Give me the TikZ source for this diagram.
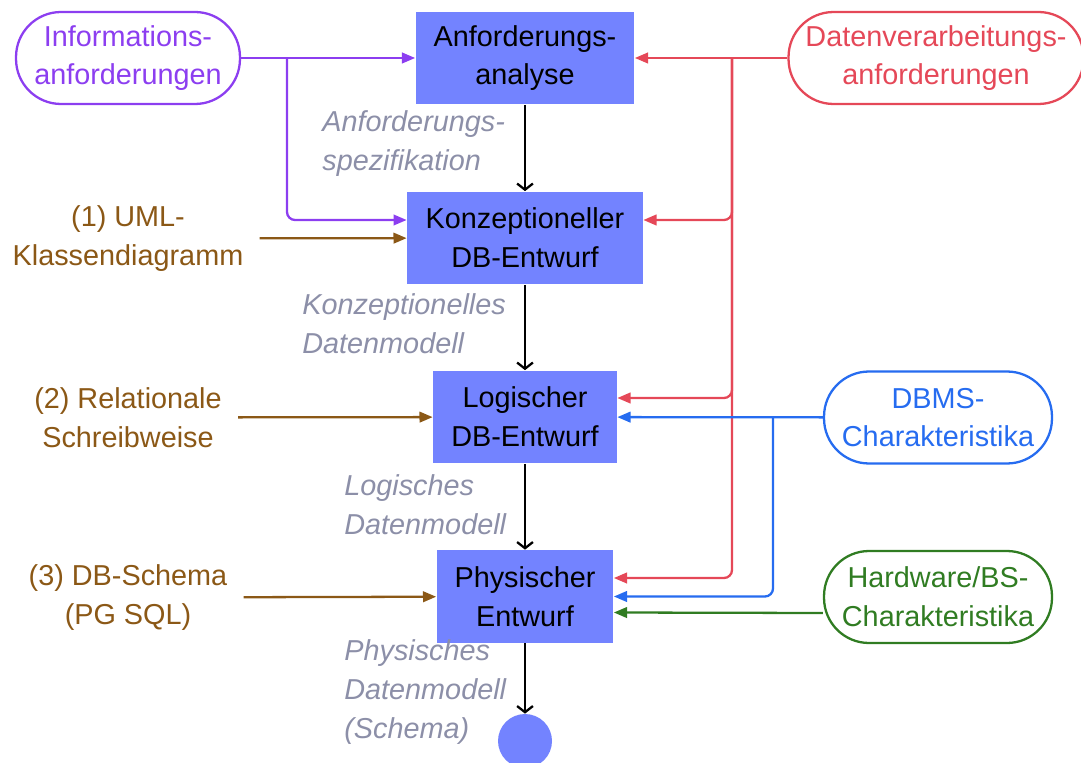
\documentclass[tikz,border=0pt]{standalone}
\usepackage{fontspec}
\setmainfont{Liberation Sans}
\usetikzlibrary{arrows.meta}
\definecolor{boxblue}{RGB}{115,131,255}
\definecolor{infopurple}{RGB}{140,62,240}
\definecolor{procred}{RGB}{229,72,88}
\definecolor{dbmsblue}{RGB}{38,108,240}
\definecolor{hwgreen}{RGB}{48,124,34}
\definecolor{inbrown}{RGB}{139,88,22}
\definecolor{resgray}{RGB}{140,143,168}

\begin{document}
\begin{tikzpicture}[x=0.02cm,y=-0.02cm,
  font=\fontsize{16.4}{22}\selectfont,
  phase/.style={fill=boxblue,align=center,inner sep=0,minimum height=1.86cm},
  source/.style={draw,rounded corners=0.9cm,line width=1.3pt,align=center,inner sep=0,minimum height=1.84cm,minimum width=4.56cm},
  result/.style={text=resgray,font=\fontsize{16.4}{22}\selectfont\itshape,align=left,anchor=west,inner sep=0},
  input/.style={text=inbrown,align=center,inner sep=0.32cm},
  flow/.style={line width=1.3pt,-{Straight Barb[length=3.5pt,width=9pt]}},
  feed/.style={line width=1.3pt,rounded corners=0.16cm,-{Triangle[length=7.5pt,width=6pt]}}]
\useasboundingbox (0,0) rectangle (1081,763);

\node[phase,minimum width=4.38cm] (ana) at (525,58) {Anforderungs-\\analyse};
\node[phase,minimum width=4.72cm] (konz) at (525,238) {Konzeptioneller\\DB-Entwurf};
\node[phase,minimum width=3.68cm] (logi) at (525,417) {Logischer\\DB-Entwurf};
\node[phase,minimum width=3.54cm] (phys) at (525,596.5) {Physischer\\Entwurf};
\node[circle,fill=boxblue,minimum size=1.08cm,inner sep=0] (ende) at (525,741) {};

\node[source,draw=infopurple,text=infopurple,minimum width=4.48cm] (info) at (128,58) {Informations-\\anforderungen};
\node[source,draw=procred,text=procred,minimum width=5.9cm] (proc) at (936,58) {Datenverarbeitungs-\\anforderungen};
\node[source,draw=dbmsblue,text=dbmsblue] (dbms) at (938,417.5) {DBMS-\\Charakteristika};
\node[source,draw=hwgreen,text=hwgreen] (hw) at (938,597) {Hardware/BS-\\Charakteristika};

\node[input] (uml) at (128,238.5) {(1) UML-\\Klassendiagramm};
\node[input] (rel) at (128,417.5) {(2) Relationale\\Schreibweise};
\node[input] (sql) at (128,597.5) {(3) DB-Schema\\(PG SQL)};

\node[result] (spez) at (322,143.5) {Anforderungs-\\spezifikation};
\node[result] (kdm) at (302,324) {Konzeptionelles\\Datenmodell};
\node[result] (ldm) at (344,504.5) {Logisches\\Datenmodell};
\node[result] (pdm) at (344,692) {Physisches\\Datenmodell\\(Schema)};

\draw[flow] (ana) -- (konz);
\draw[flow] (konz) -- (logi);
\draw[flow] (logi) -- (phys);
\draw[flow] (phys) -- (ende);

\coordinate (infoj) at (287,58);
\draw[feed,infopurple] (info) -- (ana);
\draw[feed,infopurple] (infoj) |- ([yshift=0.36cm]konz.west);

\coordinate (procj) at (732,58);
\draw[feed,procred] (proc) -- (ana);
\draw[feed,procred] (procj) |- ([yshift=0.36cm]konz.east);
\draw[feed,procred] (procj) |- ([yshift=0.38cm]logi.east);
\draw[feed,procred] (procj) |- ([yshift=0.37cm]phys.east);

\coordinate (dbmsj) at (773,417.5);
\draw[feed,dbmsblue] (dbms) -- (logi);
\draw[feed,dbmsblue] (dbmsj) |- (phys.east);

\draw[feed,hwgreen] ([yshift=-0.32cm]hw.west) -- ([yshift=-0.32cm]phys.east);

\draw[feed,inbrown] (uml) -- (konz);
\draw[feed,inbrown] (rel) -- (logi);
\draw[feed,inbrown] (sql) -- (phys);
\end{tikzpicture}
\end{document}
